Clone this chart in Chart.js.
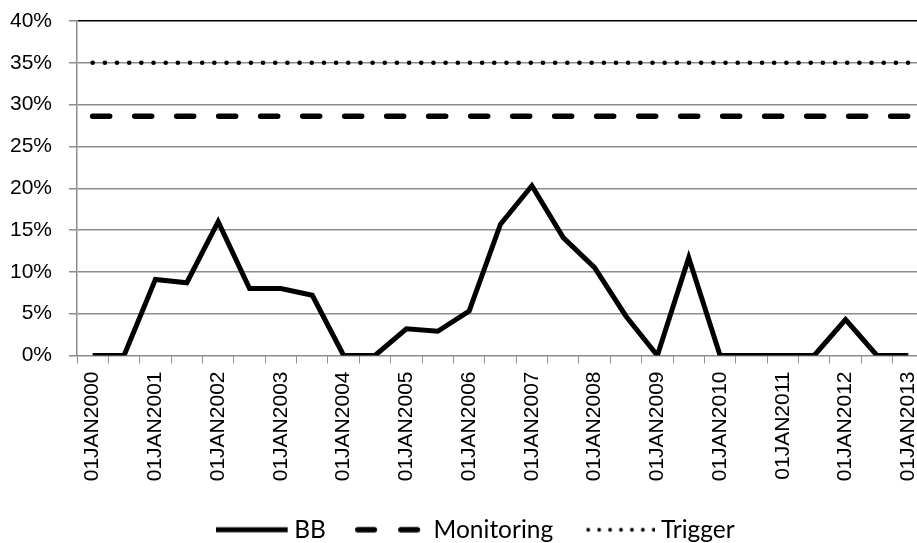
<!DOCTYPE html>
<html>
<head>
<meta charset="utf-8">
<script src="https://cdn.jsdelivr.net/npm/chart.js@4.4.1/dist/chart.umd.min.js"></script>
<style>
  html, body { margin: 0; padding: 0; background: #fff; overflow: hidden; }
  #wrap { width: 935px; height: 552px; }
</style>
</head>
<body>
<div id="wrap"><canvas id="myChart" width="935" height="552"></canvas></div>
<script>
// Half-yearly dates, only the January ones get a label
const dates = [
    '01JAN2000', '01JUL2000', '01JAN2001', '01JUL2001', '01JAN2002', '01JUL2002',
    '01JAN2003', '01JUL2003', '01JAN2004', '01JUL2004', '01JAN2005', '01JUL2005',
    '01JAN2006', '01JUL2006', '01JAN2007', '01JUL2007', '01JAN2008', '01JUL2008',
    '01JAN2009', '01JUL2009', '01JAN2010', '01JUL2010', '01JAN2011', '01JUL2011',
    '01JAN2012', '01JUL2012', '01JAN2013'
];

// BB in percent
const bbValues = [
    0, 0, 9.1, 8.7, 16.0, 8.0,
    8.0, 7.2, 0, 0, 3.2, 2.9,
    5.3, 15.7, 20.3, 14.1, 10.5, 4.7,
    0, 11.7, 0, 0, 0, 0,
    4.3, 0, 0
];

// threshold levels (percent)
const monitoringLevel = 28.6;
const triggerLevel = 35;

const yTicks = [0, 5, 10, 15, 20, 25, 30, 35, 40];

const axisFamily = '"Liberation Sans", Arial, sans-serif';
const gridGrey = '#8c8c8c';

// little line samples for the legend (solid, dashed, dotted)
function legendSample(kind) {
    const c = document.createElement('canvas');
    c.width = 73;
    c.height = 10;
    const g = c.getContext('2d');
    g.strokeStyle = '#000';
    g.fillStyle = '#000';
    if (kind === 'solid') {
        g.lineWidth = 5;
        g.beginPath();
        g.moveTo(0, 5);
        g.lineTo(72, 5);
        g.stroke();
    } else if (kind === 'dash') {
        g.lineWidth = 5.5;
        g.lineCap = 'round';
        g.beginPath();
        g.moveTo(2.75, 5); g.lineTo(19.25, 5);
        g.moveTo(45.75, 5); g.lineTo(62.25, 5);
        g.stroke();
    } else {
        for (let i = 0; i < 7; i++) {
            g.beginPath();
            g.arc(5.75 + i * 10.92, 5, 1.9, 0, Math.PI * 2);
            g.fill();
        }
    }
    return c;
}
const samples = [legendSample('solid'), legendSample('dash'), legendSample('dot')];

// legend in the original is centred a bit right of the canvas middle
const legendShift = {
    id: 'legendShift',
    afterLayout(ch) {
        ch.legend.left = 33;
    }
};

const ctx = document.getElementById('myChart').getContext('2d');
const chart = new Chart(ctx, {
    type: 'line',
    data: {
        labels: dates,
        datasets: [
            {
                label: 'BB',
                data: bbValues,
                borderColor: '#000',
                backgroundColor: '#000',
                borderWidth: 5,
                borderJoinStyle: 'miter',
                borderCapStyle: 'butt',
                pointRadius: 0,
                tension: 0,
                fill: false
            },
            {
                label: 'Monitoring',
                data: dates.map(() => monitoringLevel),
                borderColor: '#000',
                backgroundColor: '#000',
                borderWidth: 5.5,
                borderDash: [17, 25],
                borderCapStyle: 'round',
                pointRadius: 0,
                fill: false
            },
            {
                label: 'Trigger',
                data: dates.map(() => triggerLevel),
                borderColor: '#000',
                backgroundColor: '#000',
                borderWidth: 4.6,
                borderDash: [0, 12.17],
                borderCapStyle: 'round',
                pointRadius: 0,
                fill: false
            }
        ]
    },
    plugins: [legendShift],
    options: {
        responsive: false,
        animation: false,
        layout: {
            padding: { top: 21, left: 0, right: 11, bottom: 0 }
        },
        plugins: {
            tooltip: { enabled: false },
            legend: {
                position: 'bottom',
                labels: {
                    usePointStyle: true,
                    pointStyleWidth: 59.5,
                    padding: 36,
                    color: '#000',
                    font: { family: 'Lato, "Open Sans", sans-serif', size: 24.5 },
                    generateLabels: ch => ch.data.datasets.map((ds, i) => ({
                        text: ds.label,
                        fillStyle: '#000',
                        strokeStyle: '#000',
                        fontColor: '#000',
                        lineWidth: 0,
                        pointStyle: samples[i],
                        hidden: false,
                        datasetIndex: i
                    }))
                }
            }
        },
        scales: {
            x: {
                offset: true,
                grid: {
                    display: true,
                    offset: true,
                    drawOnChartArea: false,
                    drawTicks: true,
                    tickLength: 8,
                    color: gridGrey
                },
                border: { color: gridGrey, width: 1 },
                ticks: {
                    autoSkip: false,
                    minRotation: 90,
                    maxRotation: 90,
                    padding: 8,
                    color: '#000',
                    font: { family: axisFamily, size: 21 },
                    callback: function (val, index) {
                        return index % 2 === 0 ? this.getLabelForValue(val) : '';
                    }
                },
                afterFit: scale => {
                    scale.height = 126;
                    scale.paddingLeft = 0;
                    scale.paddingRight = 0;
                }
            },
            y: {
                min: yTicks[0],
                max: yTicks[yTicks.length - 1],
                grid: {
                    color: c => (c.tick && c.tick.value === 40 ? '#000' : gridGrey),
                    tickColor: gridGrey,
                    lineWidth: 1.5,
                    tickLength: 8
                },
                border: { color: gridGrey, width: 1.5 },
                afterBuildTicks: scale => {
                    scale.ticks = yTicks.map(v => ({ value: v }));
                },
                ticks: {
                    padding: 17,
                    color: '#000',
                    font: { family: axisFamily, size: 21 },
                    callback: v => v + '%'
                },
                afterFit: scale => {
                    scale.width = 77;
                    scale.paddingTop = 0;
                    scale.paddingBottom = 0;
                }
            }
        }
    }
});
</script>
</body>
</html>
